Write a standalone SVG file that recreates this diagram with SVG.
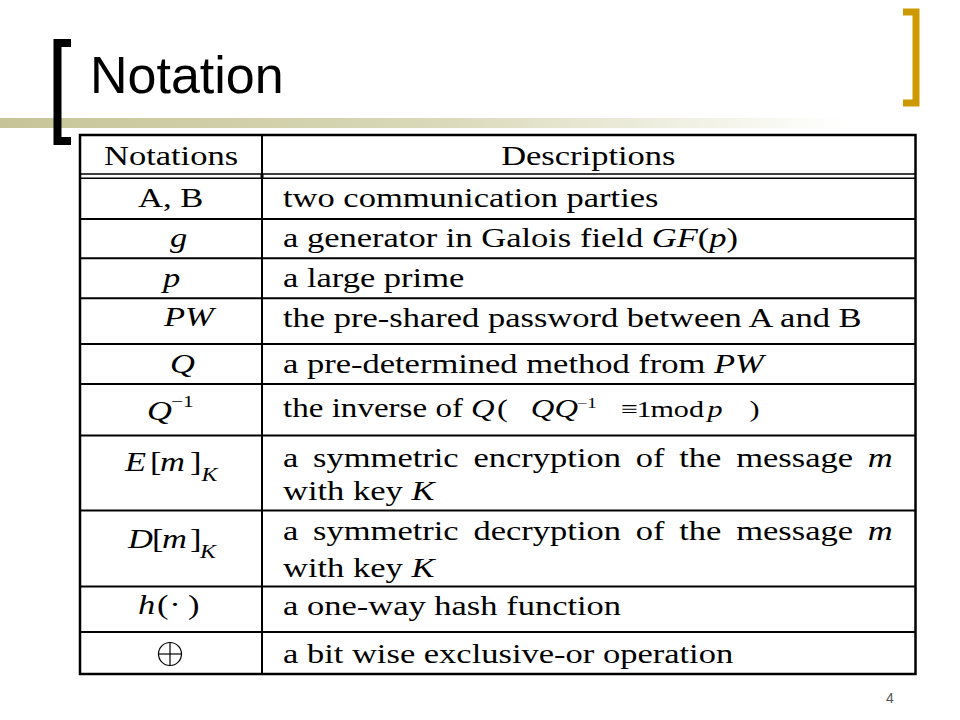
<svg xmlns="http://www.w3.org/2000/svg" width="960" height="720" viewBox="0 0 960 720">
  <defs>
    <linearGradient id="barGrad" x1="0" y1="0" x2="960" y2="0" gradientUnits="userSpaceOnUse">
      <stop offset="0" stop-color="#C6C497"/>
      <stop offset="0.45" stop-color="#D9D8B8"/>
      <stop offset="0.88" stop-color="#FFFFFF"/>
    </linearGradient>
    <style>
      .t { font-family: "Liberation Serif", "Times New Roman", serif; font-size: 27.5px; fill: #000; }
      .i { font-style: italic; }
      .fq { font-size: 26px; }
      .f { font-size: 24px; }
      .sm { font-size: 17px; }
      .xs { font-size: 15px; }
      .sub { font-size: 19px; }
      .rule { stroke: #000; stroke-width: 2; fill: none; }
      .thin { stroke: #000; stroke-width: 1.5; fill: none; }
    </style>
  </defs>
  <rect width="960" height="720" fill="#FFFFFF"/>

  <g id="title-bar">
    <rect x="0" y="118" width="960" height="10" fill="url(#barGrad)"/>
    <path d="M71,43 H57.5 V141 H71" fill="none" stroke="#000" stroke-width="8"/>
    <path d="M903,12 H916 V103 H903" fill="none" stroke="#CC9900" stroke-width="7"/>
    <text x="90" y="93" font-family="Liberation Sans, Arial, sans-serif" font-size="52" fill="#000">Notation</text>
  </g>

  <g id="table-grid">
    <rect x="80" y="135" width="835.5" height="539" fill="none" stroke="#000" stroke-width="2.5"/>
    <line class="rule" x1="262" y1="135" x2="262" y2="674"/>
    <line class="thin" x1="80" y1="174" x2="915.5" y2="174"/>
    <line class="thin" x1="80" y1="178.3" x2="915.5" y2="178.3"/>
    <rect x="260.5" y="174" width="3" height="4.3" fill="#000"/>
    <line class="rule" x1="80" y1="219" x2="915.5" y2="219"/>
    <line class="rule" x1="80" y1="258.3" x2="915.5" y2="258.3"/>
    <line class="rule" x1="80" y1="298.3" x2="915.5" y2="298.3"/>
    <line class="rule" x1="80" y1="344" x2="915.5" y2="344"/>
    <line class="rule" x1="80" y1="384" x2="915.5" y2="384"/>
    <line class="rule" x1="80" y1="435.5" x2="915.5" y2="435.5"/>
    <line class="rule" x1="80" y1="510.5" x2="915.5" y2="510.5"/>
    <line class="rule" x1="80" y1="586.5" x2="915.5" y2="586.5"/>
    <line class="rule" x1="80" y1="632" x2="915.5" y2="632"/>
  </g>

  <g id="table-text" transform="scale(1.255,1)">
    <g id="header">
      <text class="t" x="136.3" y="165.5" text-anchor="middle">Notations</text>
      <text class="t" x="468.8" y="165.5" text-anchor="middle">Descriptions</text>
    </g>
    <g id="row-ab">
      <text class="t" x="110" y="207.5">A, B</text>
      <text class="t" x="225.5" y="207">two communication parties</text>
    </g>
    <g id="row-g">
      <text class="t i" x="135.5" y="247">g</text>
      <text class="t" x="225.5" y="247">a generator in Galois field <tspan class="i">GF</tspan>(<tspan class="i">p</tspan>)</text>
    </g>
    <g id="row-p">
      <text class="t i" x="129.9" y="287">p</text>
      <text class="t" x="225.5" y="287">a large prime</text>
    </g>
    <g id="row-pw">
      <text class="t i" x="130.7" y="326.5">PW</text>
      <text class="t" x="225.5" y="327">the pre-shared password between A and B</text>
    </g>
    <g id="row-q">
      <text class="t i" x="135.5" y="373.5">Q</text>
      <text class="t" x="225.5" y="373.5">a pre-determined method from <tspan class="i">PW</tspan></text>
    </g>
    <g id="row-qinv">
      <text class="t i" x="117.1" y="420">Q</text>
      <text class="t sm" x="136.3" y="407">−1</text>
      <text class="t" x="225.5" y="417" textLength="143.4" lengthAdjust="spacingAndGlyphs">the inverse of</text>
      <text class="t fq i" x="375.3" y="417">Q</text>
      <text class="t fq" x="396" y="417">(</text>
      <text class="t fq i" x="423" y="417">QQ</text>
      <text class="t xs" x="459.5" y="408">−1</text>
      <text class="t f" x="494.8" y="417">≡</text>
      <text class="t f" x="507.2" y="417">1</text>
      <text class="t f" x="518.3" y="417">mod</text>
      <text class="t f i" x="563.7" y="417">p</text>
      <text class="t f" x="597.2" y="417">)</text>
    </g>
    <g id="row-enc">
      <text class="t i" x="99.6" y="471">E</text>
      <text class="t" x="119.5" y="471">[</text>
      <text class="t i" x="127.5" y="471">m</text>
      <text class="t" x="151.4" y="471">]</text>
      <text class="t i sub" x="160.6" y="481">K</text>
      <text class="t" x="225.5" y="467.5" word-spacing="4.9">a symmetric encryption of the message <tspan class="i">m</tspan></text>
      <text class="t" x="225.5" y="500">with key <tspan class="i">K</tspan></text>
    </g>
    <g id="row-dec">
      <text class="t i" x="102" y="548.5">D</text>
      <text class="t" x="121.1" y="548.5">[</text>
      <text class="t i" x="129.1" y="548.5">m</text>
      <text class="t" x="151.4" y="548.5">]</text>
      <text class="t i sub" x="159.4" y="558">K</text>
      <text class="t" x="225.5" y="540" word-spacing="4.9">a symmetric decryption of the message <tspan class="i">m</tspan></text>
      <text class="t" x="225.5" y="577">with key <tspan class="i">K</tspan></text>
    </g>
    <g id="row-hash">
      <text class="t i" x="110" y="614">h</text>
      <text class="t" x="125.1" y="614">(</text>
      <text class="t" x="139.4" y="614" text-anchor="middle">·</text>
      <text class="t" x="149.8" y="614">)</text>
      <text class="t" x="225.5" y="615">a one-way hash function</text>
    </g>
    <g id="row-xor-desc">
      <text class="t" x="225.5" y="663">a bit wise exclusive-or operation</text>
    </g>
  </g>
  <g id="row-xor-symbol">
    <circle cx="170" cy="654" r="11.5" fill="none" stroke="#000" stroke-width="1.2"/>
    <line x1="158.5" y1="654" x2="181.5" y2="654" stroke="#000" stroke-width="1.2"/>
    <line x1="170" y1="642.5" x2="170" y2="665.5" stroke="#000" stroke-width="1.2"/>
  </g>

  <text id="page-number" x="890" y="703" text-anchor="middle" font-family="Liberation Sans, Arial, sans-serif" font-size="14" fill="#555">4</text>
</svg>
